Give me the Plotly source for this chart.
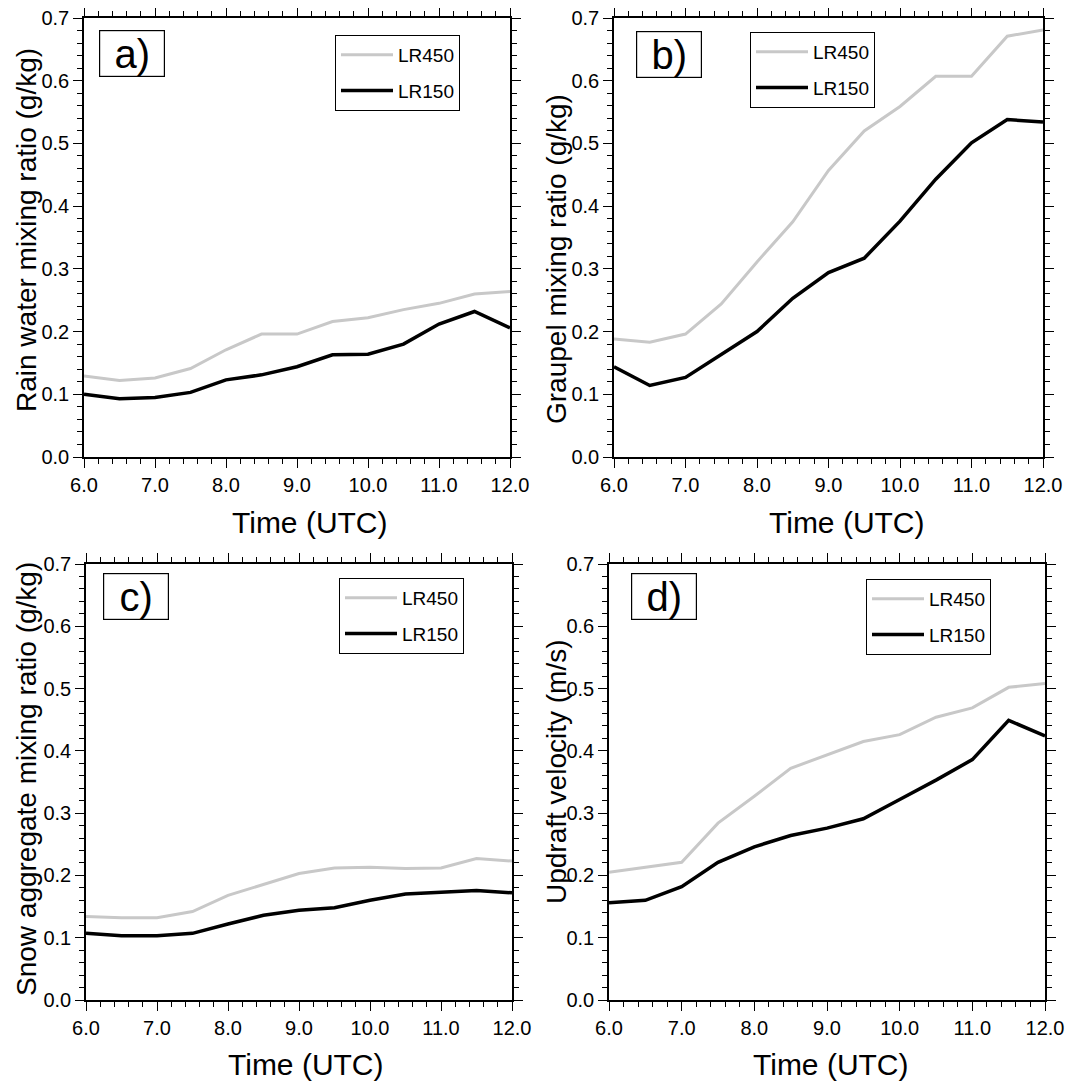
import plotly.graph_objects as go

OFF = 8  # page body margin
W, H = 1075 - OFF, 1083 - OFF

time_utc = [6.0, 6.5, 7.0, 7.5, 8.0, 8.5, 9.0, 9.5, 10.0, 10.5, 11.0, 11.5, 12.0]

rain_lr450 = [0.129, 0.122, 0.126, 0.141, 0.171, 0.196, 0.196, 0.216, 0.222, 0.235, 0.245, 0.260, 0.264]
rain_lr150 = [0.100, 0.093, 0.095, 0.103, 0.123, 0.131, 0.144, 0.163, 0.164, 0.180, 0.212, 0.232, 0.206]

graupel_lr450 = [0.188, 0.183, 0.196, 0.244, 0.311, 0.375, 0.457, 0.520, 0.559, 0.607, 0.607, 0.671, 0.681]
graupel_lr150 = [0.144, 0.114, 0.127, 0.163, 0.200, 0.253, 0.294, 0.317, 0.376, 0.443, 0.501, 0.538, 0.534]

snow_lr450 = [0.134, 0.132, 0.132, 0.142, 0.168, 0.186, 0.203, 0.212, 0.213, 0.211, 0.212, 0.227, 0.223]
snow_lr150 = [0.107, 0.103, 0.103, 0.107, 0.122, 0.136, 0.144, 0.148, 0.160, 0.170, 0.173, 0.176, 0.172]

updraft_lr450 = [0.205, 0.213, 0.221, 0.284, 0.327, 0.372, 0.394, 0.415, 0.426, 0.454, 0.469, 0.502, 0.508]
updraft_lr150 = [0.156, 0.160, 0.182, 0.221, 0.246, 0.264, 0.276, 0.291, 0.322, 0.353, 0.386, 0.449, 0.424]

panel_letters = ["a)", "b)", "c)", "d)"]
y_titles = ["Rain water mixing ratio (g/kg)", "Graupel mixing ratio (g/kg)",
            "Snow aggregate mixing ratio (g/kg)", "Updraft velocity (m/s)"]
x_title = "Time (UTC)"
series_names = ["LR450", "LR150"]

panels = [
    (rain_lr450, rain_lr150),
    (graupel_lr450, graupel_lr150),
    (snow_lr450, snow_lr150),
    (updraft_lr450, updraft_lr150),
]

# pixel layout (screen coords) of each plot area: (left, right, top, bottom)
boxes = [(84, 510, 18, 457), (614, 1043, 18, 457), (86, 512, 564, 1000), (609, 1045, 564, 1000)]
legend_pos = [(335, 35), (750, 32), (339, 578), (866, 579)]
label_pos = [(99, 30), (636, 31), (103, 573), (631, 573)]
ytitle_pos = [(26, 230), (557, 259), (26, 779), (556, 772)]
xtitle_pos = [(310, 522), (847, 522), (306, 1064), (831, 1064)]

FONT = "Liberation Sans, Arial, Helvetica, sans-serif"
GRAY = "#c8c8c8"

def px(x):
    return (x - OFF) / W

def py(y):
    return 1 - (y - OFF) / H

fig = go.Figure()
annotations = []
layout = dict(
    template="none",
    width=W, height=H,
    margin=dict(l=0, r=0, t=0, b=0, pad=0),
    paper_bgcolor="white", plot_bgcolor="white",
    font=dict(family=FONT, color="black"),
)

for i, (s450, s150) in enumerate(panels):
    n = "" if i == 0 else str(i + 1)
    xa, ya = "x" + n, "y" + n
    lg = "legend" + n
    fig.add_trace(go.Scatter(x=time_utc, y=s450, mode="lines", name=series_names[0],
                             legendgroup="g450_" + str(i),
                             line=dict(color=GRAY, width=3), xaxis=xa, yaxis=ya, legend=lg))
    fig.add_trace(go.Scatter(x=time_utc, y=s150, mode="lines", name=series_names[1],
                             legendgroup="g150_" + str(i),
                             line=dict(color="black", width=3.5), xaxis=xa, yaxis=ya, legend=lg))
    l, r, t, b = boxes[i]
    common = dict(showline=True, linecolor="black", linewidth=1.5, mirror="allticks",
                  ticks="outside", ticklen=9, tickwidth=1.3, tickcolor="black",
                  showgrid=False, zeroline=False, automargin=False,
                  ticklabeloverflow="allow",
                  tickfont=dict(family=FONT, size=20, color="black"))
    layout["xaxis" + n] = dict(domain=[px(l), px(r)], anchor=ya, range=[6, 12],
                               tick0=6, dtick=1, tickformat=".1f",
                               minor=dict(dtick=0.2, ticks="outside", ticklen=5,
                                          tickwidth=1.2, tickcolor="black", showgrid=False),
                               **common)
    layout["yaxis" + n] = dict(domain=[py(b), py(t)], anchor=xa, range=[0, 0.7],
                               tick0=0, dtick=0.1, tickformat=".1f",
                               minor=dict(dtick=0.02, ticks="outside", ticklen=5,
                                          tickwidth=1.2, tickcolor="black", showgrid=False),
                               **common)
    lx, ly = legend_pos[i]
    layout[lg] = dict(x=px(lx), y=py(ly), xanchor="left", yanchor="top",
                      bordercolor="black", borderwidth=1, bgcolor="white",
                      font=dict(family=FONT, size=19, color="black"),
                      itemwidth=52, tracegroupgap=8, traceorder="grouped")
    bx, by = label_pos[i]
    annotations.append(dict(x=px(bx), y=py(by), xref="paper", yref="paper",
                            xanchor="left", yanchor="top", showarrow=False,
                            text=panel_letters[i], width=64, height=45,
                            align="center", valign="middle",
                            bordercolor="black", borderwidth=1.2, borderpad=0,
                            bgcolor="white",
                            font=dict(family=FONT, size=40, color="black")))
    tx, ty = ytitle_pos[i]
    annotations.append(dict(x=px(tx), y=py(ty), xref="paper", yref="paper",
                            xanchor="center", yanchor="middle", showarrow=False,
                            text=y_titles[i], textangle=-90,
                            font=dict(family=FONT, size=28, color="black")))
    xx, xy = xtitle_pos[i]
    annotations.append(dict(x=px(xx), y=py(xy), xref="paper", yref="paper",
                            xanchor="center", yanchor="middle", showarrow=False,
                            text=x_title,
                            font=dict(family=FONT, size=30, color="black")))

layout["annotations"] = annotations
layout["showlegend"] = True
fig.update_layout(**layout)
fig.write_html("out.html")
